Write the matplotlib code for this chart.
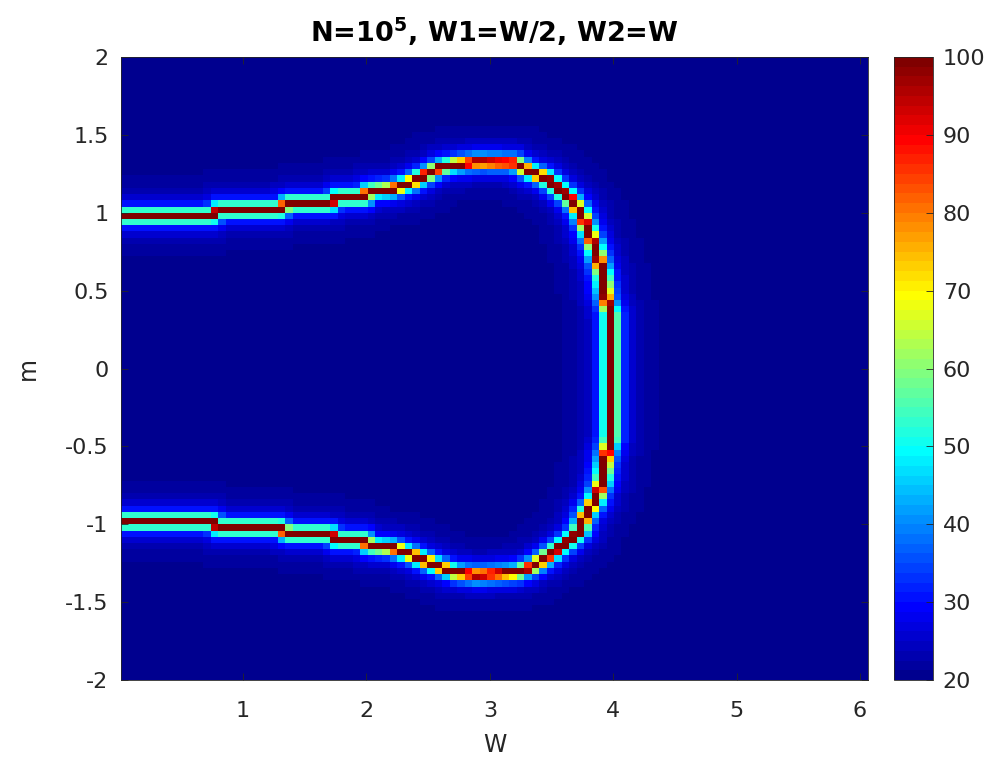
import numpy as np
import matplotlib
matplotlib.use('Agg')
import matplotlib.pyplot as plt
from matplotlib.colors import ListedColormap

plt.rcParams['font.family'] = ['DejaVu Sans']
plt.rcParams['mathtext.fontset'] = 'custom'
plt.rcParams['mathtext.rm'] = 'DejaVu Sans:bold'
plt.rcParams['mathtext.default'] = 'rm'

# ridge of the histogram (W, m)
upper_w = [0.00, 0.75, 0.80, 1.30, 1.36, 1.70, 1.76, 1.98, 2.02, 2.20, 2.35, 2.47,
           2.60, 2.72, 2.90, 3.20, 3.31, 3.46, 3.55, 3.64, 3.73, 3.84, 3.91, 3.94,
           3.98, 3.98]
upper_m = [0.98, 0.98, 1.02, 1.02, 1.06, 1.06, 1.10, 1.10, 1.14, 1.15, 1.19, 1.24,
           1.29, 1.31, 1.325, 1.32, 1.27, 1.22, 1.16, 1.10, 1.01, 0.80, 0.62, 0.45,
           0.35, 0.00]
lower_w = [3.98, 3.98, 3.94, 3.91, 3.85, 3.78, 3.72, 3.60, 3.48, 3.35, 3.22, 2.90,
           2.72, 2.58, 2.46, 2.35, 2.20, 2.02, 1.98, 1.76, 1.70, 1.36, 1.30, 0.80,
           0.75, 0.00]
lower_m = [0.00, -0.45, -0.56, -0.72, -0.85, -0.93, -1.05, -1.13, -1.20, -1.27, -1.31, -1.325,
           -1.31, -1.27, -1.23, -1.19, -1.15, -1.14, -1.10, -1.10, -1.06, -1.06, -1.02, -1.02,
           -0.98, -0.98]

cbar_ticks = [20, 30, 40, 50, 60, 70, 80, 90, 100]
x_ticks = [1, 2, 3, 4, 5, 6]
y_ticks = [-2, -1.5, -1, -0.5, 0, 0.5, 1, 1.5, 2]

# grid of the histogram
W_EDGES = np.linspace(0.011, 6.065, 101)
M_EDGES = np.linspace(-2, 2, 101)
dw = W_EDGES[1] - W_EDGES[0]
dm = M_EDGES[1] - M_EDGES[0]
wc = 0.5 * (W_EDGES[:-1] + W_EDGES[1:])
mc = 0.5 * (M_EDGES[:-1] + M_EDGES[1:])
WW, MM = np.meshgrid(wc, mc)


def dist_to_line(px, py):
    # distance (in cells) from every cell centre to a polyline
    x = WW / dw
    y = MM / dm
    px = np.asarray(px) / dw
    py = np.asarray(py) / dm
    best = np.full(x.shape, np.inf)
    for i in range(len(px) - 1):
        ax_, ay_ = px[i], py[i]
        bx, by = px[i + 1], py[i + 1]
        vx, vy = bx - ax_, by - ay_
        L2 = vx * vx + vy * vy
        if L2 == 0:
            t = np.zeros_like(x)
        else:
            t = np.clip(((x - ax_) * vx + (y - ay_) * vy) / L2, 0, 1)
        d = np.hypot(x - (ax_ + t * vx), y - (ay_ + t * vy))
        best = np.minimum(best, d)
    return best


d = np.minimum(dist_to_line(upper_w, upper_m), dist_to_line(lower_w, lower_m))
counts = 20 + 100 / (1 + (d / 0.7) ** 2.0)


def matlab_jet(m=64):
    n = int(np.ceil(m / 4))
    u = np.concatenate([np.arange(1, n + 1) / n, np.ones(n - 1), np.arange(n, 0, -1) / n])
    g = int(np.ceil(n / 2)) - (1 if m % 4 == 1 else 0) + np.arange(1, len(u) + 1)
    r = g + n
    b = g - n
    J = np.zeros((m, 3))
    ok = r <= m
    J[r[ok] - 1, 0] = u[ok]
    ok = g <= m
    J[g[ok] - 1, 1] = u[ok]
    ok = b >= 1
    J[b[ok] - 1, 2] = u[ok]
    return ListedColormap(J)


fig = plt.figure(figsize=(9.92, 7.61), dpi=100)
ax = fig.add_axes([0.122, 0.1064, 0.753, 0.8187])
cax = fig.add_axes([0.9012, 0.1064, 0.0393, 0.8187])

mesh = ax.pcolormesh(W_EDGES, M_EDGES, counts, cmap=matlab_jet(64), vmin=20, vmax=100)
ax.set_xlim(W_EDGES[0], W_EDGES[-1])
ax.set_ylim(-2, 2)

ax.set_xticks(x_ticks)
ax.set_xticklabels([f'{v:g}' for v in x_ticks])
ax.set_yticks(y_ticks)
ax.set_yticklabels([f'{v:g}' for v in y_ticks])
ax.tick_params(direction='in', top=True, right=True, length=5, width=0.6,
               labelsize=16, colors='#262626')
ax.tick_params(axis='x', pad=15)
ax.tick_params(axis='y', pad=9)
for s in ax.spines.values():
    s.set_linewidth(0.6)
    s.set_color('#262626')

ax.set_xlabel('W', fontsize=17, color='#262626', labelpad=9)
ax.set_ylabel('m', fontsize=17, color='#262626', labelpad=18)
ax.set_title(r'N=10$^{5}$, W1=W/2, W2=W', fontsize=19.5, fontweight='bold', pad=11)

cb = fig.colorbar(mesh, cax=cax, ticks=cbar_ticks)
cb.ax.tick_params(direction='in', length=5, width=0.6, labelsize=16, colors='#262626', pad=7)
cb.outline.set_linewidth(0.6)
cb.outline.set_edgecolor('#262626')

fig.savefig('out.png', dpi=100)
